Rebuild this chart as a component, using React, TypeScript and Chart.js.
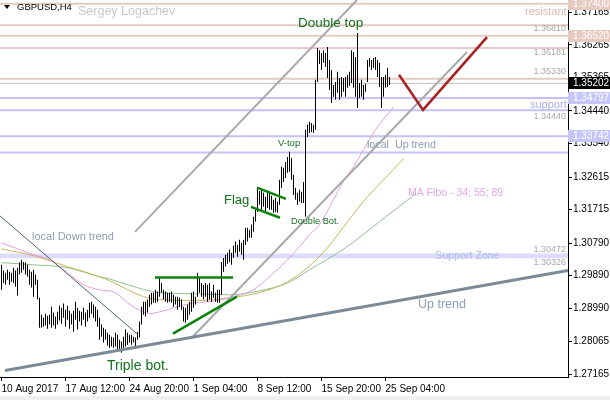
import React, { useEffect, useRef } from 'react';
import { Chart, registerables } from 'chart.js';

Chart.register(...registerables);

const FONT = '"Liberation Sans", Arial, sans-serif';

// GBPUSD H4 bars: highs and lows (one bar per 4 hours)
const barHigh = [
  1.3019, 1.3003, 1.2997, 1.3005, 1.3000, 1.2997, 1.3011, 1.3003, 1.3011, 1.3025,
  1.3033, 1.3027, 1.3025, 1.3019, 1.3005, 1.3000, 1.3005, 1.2992, 1.2978, 1.2928,
  1.2881, 1.2873, 1.2884, 1.2878, 1.2881, 1.2903, 1.2887, 1.2876, 1.2889, 1.2906,
  1.2900, 1.2912, 1.2895, 1.2906, 1.2892, 1.2884, 1.2892, 1.2917, 1.2900, 1.2892,
  1.2889, 1.2900, 1.2887, 1.2895, 1.2914, 1.2917, 1.2909, 1.2903, 1.2895, 1.2873,
  1.2854, 1.2845, 1.2840, 1.2831, 1.2826, 1.2820, 1.2818, 1.2831, 1.2826, 1.2812,
  1.2807, 1.2820, 1.2840, 1.2831, 1.2826, 1.2826, 1.2820, 1.2818, 1.2834, 1.2862,
  1.2903, 1.2917, 1.2917, 1.2923, 1.2936, 1.2942, 1.2942, 1.2950, 1.2945, 1.2983,
  1.2969, 1.2950, 1.2945, 1.2942, 1.2942, 1.2945, 1.2936, 1.2931, 1.2931, 1.2928,
  1.2923, 1.2903, 1.2900, 1.2909, 1.2917, 1.2942, 1.2945, 1.2931, 1.2997, 1.2983,
  1.2969, 1.2964, 1.2969, 1.2964, 1.2969, 1.2945, 1.2964, 1.2942, 1.2950, 1.2950,
  1.3027, 1.3038, 1.3047, 1.3052, 1.3061, 1.3052, 1.3072, 1.3083, 1.3074, 1.3088,
  1.3080, 1.3088, 1.3121, 1.3121, 1.3116, 1.3130, 1.3152, 1.3171, 1.3232, 1.3223,
  1.3226, 1.3218, 1.3207, 1.3221, 1.3221, 1.3210, 1.3199, 1.3204, 1.3193, 1.3254,
  1.3290, 1.3287, 1.3303, 1.3317, 1.3331, 1.3314, 1.3268, 1.3232, 1.3218, 1.3226,
  1.3221, 1.3248, 1.3392, 1.3406, 1.3414, 1.3411, 1.3406, 1.3530, 1.3618, 1.3612,
  1.3604, 1.3612, 1.3604, 1.3621, 1.3585, 1.3557, 1.3516, 1.3524, 1.3552, 1.3535,
  1.3538, 1.3535, 1.3538, 1.3544, 1.3552, 1.3612, 1.3607, 1.3593, 1.3659, 1.3521,
  1.3530, 1.3516, 1.3519, 1.3585, 1.3590, 1.3585, 1.3590, 1.3593, 1.3585, 1.3577,
  1.3538, 1.3538, 1.3544, 1.3563, 1.3538,
];
const barLow = [
  1.2950, 1.2969, 1.2964, 1.2978, 1.2964, 1.2972, 1.2969, 1.2958, 1.2934, 1.2992,
  1.2997, 1.3005, 1.2992, 1.2986, 1.2964, 1.2956, 1.2931, 1.2964, 1.2923, 1.2845,
  1.2845, 1.2848, 1.2851, 1.2842, 1.2854, 1.2845, 1.2851, 1.2842, 1.2854, 1.2865,
  1.2856, 1.2873, 1.2848, 1.2867, 1.2842, 1.2854, 1.2834, 1.2867, 1.2840, 1.2862,
  1.2851, 1.2867, 1.2848, 1.2862, 1.2873, 1.2884, 1.2873, 1.2862, 1.2848, 1.2812,
  1.2820, 1.2804, 1.2812, 1.2796, 1.2790, 1.2793, 1.2790, 1.2793, 1.2785, 1.2785,
  1.2776, 1.2785, 1.2793, 1.2798, 1.2804, 1.2798, 1.2804, 1.2793, 1.2812, 1.2818,
  1.2854, 1.2881, 1.2876, 1.2887, 1.2903, 1.2909, 1.2914, 1.2914, 1.2917, 1.2931,
  1.2942, 1.2923, 1.2917, 1.2914, 1.2917, 1.2914, 1.2903, 1.2909, 1.2895, 1.2903,
  1.2895, 1.2862, 1.2859, 1.2867, 1.2881, 1.2889, 1.2900, 1.2909, 1.2931, 1.2942,
  1.2931, 1.2923, 1.2931, 1.2917, 1.2923, 1.2917, 1.2928, 1.2917, 1.2914, 1.2914,
  1.2936, 1.3000, 1.3014, 1.3022, 1.3027, 1.3019, 1.3038, 1.3052, 1.3041, 1.3055,
  1.3047, 1.3033, 1.3074, 1.3083, 1.3094, 1.3094, 1.3110, 1.3138, 1.3165, 1.3185,
  1.3171, 1.3179, 1.3165, 1.3176, 1.3171, 1.3171, 1.3163, 1.3165, 1.3163, 1.3185,
  1.3232, 1.3248, 1.3259, 1.3273, 1.3276, 1.3254, 1.3212, 1.3199, 1.3185, 1.3193,
  1.3190, 1.3190, 1.3152, 1.3372, 1.3383, 1.3386, 1.3383, 1.3392, 1.3524, 1.3574,
  1.3557, 1.3577, 1.3566, 1.3535, 1.3502, 1.3466, 1.3483, 1.3475, 1.3494, 1.3475,
  1.3483, 1.3497, 1.3483, 1.3508, 1.3513, 1.3521, 1.3508, 1.3483, 1.3452, 1.3480,
  1.3483, 1.3475, 1.3497, 1.3524, 1.3566, 1.3557, 1.3563, 1.3557, 1.3538, 1.3510,
  1.3452, 1.3483, 1.3508, 1.3510, 1.3516,
];

const xTickIndex = [0, 32, 64, 96, 128, 160, 192];
const xTickLabels = ['10 Aug 2017', '17 Aug 12:00', '24 Aug 20:00', '1 Sep 04:00', '8 Sep 12:00', '15 Sep 20:00', '25 Sep 04:00'];
const yTickValues = [1.37165, 1.36265, 1.35365, 1.3444, 1.3354, 1.32615, 1.31715, 1.3079, 1.2989, 1.2899, 1.28065, 1.27165];

const resistanceLevels = [1.374, 1.3681, 1.3652, 1.36181, 1.3533];
const supportLevels = [1.34797, 1.3446, 1.33742, 1.3329];
const currentPrice = 1.35202;
const supportZone = [1.3037, 1.305];

// Moving averages (MA Fibo 34, 55, 89), sampled along the drawn curves
const ma34Index = [0, 16, 24, 33, 41, 49, 57, 63, 71, 74, 79, 88, 96, 104, 114, 126, 134, 143, 149, 154, 159, 166, 172, 176, 181, 187, 196];
const ma34Value = [1.3080, 1.3047, 1.3033, 1.2997, 1.2964, 1.2950, 1.2942, 1.2914, 1.2889, 1.2884, 1.2889, 1.2903, 1.2914, 1.2917, 1.2928, 1.2950, 1.2986, 1.3033, 1.3069, 1.3102, 1.3130, 1.3199, 1.3259, 1.3290, 1.3337, 1.3392, 1.3455];
const ma55Index = [0, 16, 33, 49, 54, 71, 79, 96, 114, 129, 143, 154, 163, 173, 183, 193, 201];
const ma55Value = [1.3063, 1.3044, 1.3014, 1.2986, 1.2975, 1.2931, 1.2923, 1.2920, 1.2928, 1.2942, 1.2972, 1.3016, 1.3066, 1.3138, 1.3207, 1.3265, 1.3312];
const ma89Index = [0, 16, 33, 49, 54, 63, 79, 96, 114, 129, 143, 154, 172, 189, 207];
const ma89Value = [1.3025, 1.3019, 1.3011, 1.2986, 1.2980, 1.2964, 1.2942, 1.2939, 1.2936, 1.2947, 1.2969, 1.3005, 1.3066, 1.3138, 1.3215];

// Trend lines (bar index, price)
const upTrendIndex = [1.75, 283.25];
const upTrendPrice = [1.2727, 1.3003];
const channelUpperIndex = [66.75, 177.75];
const channelUpperPrice = [1.311, 1.37505];
const channelLowerIndex = [95.25, 232.75];
const channelLowerPrice = [1.2818, 1.3607];
const localDownIndex = [-0.75, 68.25];
const localDownPrice = [1.3154, 1.2826];
const greenFlatIndex = [76.75, 115.75];
const greenFlatPrice = [1.2984, 1.2984];
const greenRiseIndex = [85.75, 117.75];
const greenRisePrice = [1.2829, 1.2931];
const flagUpperIndex = [127.75, 142.25];
const flagUpperPrice = [1.3232, 1.3201];
const flagLowerIndex = [124.75, 139.25];
const flagLowerPrice = [1.3179, 1.3149];
const forecastIndex = [198.75, 210.75, 242.75];
const forecastPrice = [1.3544, 1.3447, 1.3648];

const axisMarkValues = [1.374, 1.3652, 1.35202, 1.34797, 1.33742];
const axisMarkKinds = ['res', 'res', 'cur', 'sup', 'sup'];

const X_MIN = -0.75;
const X_MAX = 283.25;
const Y_MIN = 1.2709;
const Y_MAX = 1.37505;

const GREEN_TXT = '#12701a';
const SLATE_TXT = '#8d9db3';
const GRAY_NUM = '#a8a8a8';

const notes = [
  { text: 'Double top', i: 148.25, p: 1.3687, size: 13.5, color: GREEN_TXT, align: 'left' },
  { text: 'V-top', i: 138.25, p: 1.33555, size: 9.5, color: GREEN_TXT, align: 'left' },
  { text: 'Flag', i: 111.25, p: 1.3198, size: 13, color: GREEN_TXT, align: 'left' },
  { text: 'Double Bot.', i: 144.75, p: 1.314, size: 9.2, color: GREEN_TXT, align: 'left' },
  { text: 'Triple bot.', i: 52.75, p: 1.27394, size: 14, color: GREEN_TXT, align: 'left' },
  { text: 'local Down trend', i: 15.25, p: 1.30958, size: 11, color: SLATE_TXT, align: 'left' },
  { text: 'local  Up trend', i: 182.75, p: 1.33499, size: 10.7, color: SLATE_TXT, align: 'left' },
  { text: 'MA Fibo - 34; 55; 89', i: 203.25, p: 1.32173, size: 10.5, color: '#e6a6e6', align: 'left' },
  { text: 'Up trend', i: 208.25, p: 1.29079, size: 12.5, color: SLATE_TXT, align: 'left' },
  { text: 'Support Zone', i: 216.75, p: 1.30433, size: 10.7, color: '#b4b4f4', align: 'left' },
  { text: 'support', i: 264.25, p: 1.34618, size: 11, color: '#adadf2', align: 'left' },
  { text: 'resistant', i: 261.75, p: 1.37174, size: 11, color: '#dcbab0', align: 'left' },
  { text: '1.36810', i: 282.25, p: 1.36704, size: 9, color: GRAY_NUM, align: 'right' },
  { text: '1.36181', i: 282.25, p: 1.36055, size: 9, color: GRAY_NUM, align: 'right' },
  { text: '1.35330', i: 282.25, p: 1.35516, size: 9, color: GRAY_NUM, align: 'right' },
  { text: '1.34440', i: 282.25, p: 1.34273, size: 9, color: GRAY_NUM, align: 'right' },
  { text: '1.30472', i: 282.25, p: 1.30599, size: 9, color: GRAY_NUM, align: 'right' },
  { text: '1.30326', i: 282.25, p: 1.30239, size: 9, color: GRAY_NUM, align: 'right' },
];

const seg = (xs: number[], ys: number[], color: string, width: number, order: number, extra: any = {}) => ({
  type: 'line' as const,
  data: xs.map((x, k) => ({ x, y: ys[k] })),
  borderColor: color,
  backgroundColor: color,
  borderWidth: width,
  pointRadius: 0,
  pointHoverRadius: 0,
  tension: 0,
  fill: false,
  order,
  ...extra,
});

const notesPlugin = {
  id: 'notes',
  afterDatasetsDraw(chart: any) {
    const { ctx, chartArea, scales } = chart;
    ctx.save();
    ctx.beginPath();
    ctx.rect(chartArea.left, chartArea.top, chartArea.right - chartArea.left, chartArea.bottom - chartArea.top);
    ctx.clip();
    ctx.textBaseline = 'middle';
    for (const n of notes) {
      ctx.font = `${n.size}px ${FONT}`;
      ctx.fillStyle = n.color;
      ctx.textAlign = n.align;
      ctx.fillText(n.text, scales.x.getPixelForValue(n.i), scales.y.getPixelForValue(n.p));
    }
    ctx.restore();
  },
  afterDraw(chart: any) {
    const { ctx, scales } = chart;
    const ys = scales.y;
    ctx.save();
    ctx.font = `10px ${FONT}`;
    ctx.textBaseline = 'middle';
    ctx.textAlign = 'left';
    axisMarkValues.forEach((v, k) => {
      const kind = axisMarkKinds[k];
      const y = Math.round(ys.getPixelForValue(v));
      ctx.fillStyle = kind === 'res' ? '#e6c9c1' : kind === 'sup' ? '#c5c5fa' : '#000000';
      ctx.fillRect(ys.left, y - 6, chart.width - ys.left, 12);
      ctx.fillStyle = '#ffffff';
      ctx.fillText(v.toFixed(5), ys.left + 5, y + 0.5);
    });
    // header
    ctx.fillStyle = '#000';
    ctx.beginPath();
    ctx.moveTo(4, 5);
    ctx.lineTo(10, 5);
    ctx.lineTo(7, 9);
    ctx.closePath();
    ctx.fill();
    ctx.font = `9.5px ${FONT}`;
    ctx.fillText('GBPUSD,H4', 17, 7.5);
    ctx.fillStyle = '#c8c8c8';
    ctx.font = `12.5px ${FONT}`;
    ctx.fillText('Sergey Logachev', 78, 11.5);
    ctx.restore();
  },
};

export default function App() {
  const ref = useRef<HTMLCanvasElement>(null);
  useEffect(() => {
    document.body.style.margin = '0';
    document.body.style.background = '#f0f0f0';
    const canvas = ref.current as HTMLCanvasElement;
    const bars = barHigh.map((h, i) => ({ x: i, y: [barLow[i], h] }));
    const full = [X_MIN, X_MAX];
    const datasets: any[] = [
      {
        type: 'bar',
        data: bars,
        backgroundColor: '#000000',
        borderWidth: 0,
        barThickness: 1,
        inflateAmount: 0,
        grouped: false,
        order: 10,
      },
      seg(full, [supportZone[1], supportZone[1]], 'rgba(0,0,0,0)', 0, 30, {
        fill: { value: supportZone[0] },
        backgroundColor: '#dcdcfa',
      }),
      ...resistanceLevels.map((v) => seg(full, [v, v], '#e3cbc3', 2, 25)),
      ...supportLevels.map((v) => seg(full, [v, v], '#c3c3f7', 2, 25)),
      seg(full, [currentPrice, currentPrice], '#c0c0c0', 1, 24),
      seg(ma34Index, ma34Value, '#e39de3', 1, 20, { cubicInterpolationMode: 'monotone' }),
      seg(ma55Index, ma55Value, '#c8b45a', 1, 20, { cubicInterpolationMode: 'monotone' }),
      seg(ma89Index, ma89Value, '#8fbf8f', 1, 20, { cubicInterpolationMode: 'monotone' }),
      seg(localDownIndex, localDownPrice, '#52606e', 1, 5),
      seg(upTrendIndex, upTrendPrice, '#7b8a99', 3, 5),
      seg(channelUpperIndex, channelUpperPrice, '#a9a9a9', 2, 5),
      seg(channelLowerIndex, channelLowerPrice, '#a9a9a9', 2, 5),
      seg(greenFlatIndex, greenFlatPrice, '#0a840a', 2.5, 4),
      seg(greenRiseIndex, greenRisePrice, '#0a840a', 2.5, 4),
      seg(flagUpperIndex, flagUpperPrice, '#0a840a', 2.5, 4),
      seg(flagLowerIndex, flagLowerPrice, '#0a840a', 2.5, 4),
      seg(forecastIndex, forecastPrice, '#a82020', 2.5, 4),
    ];
    const chart = new Chart(canvas, {
      type: 'bar',
      data: { datasets },
      plugins: [notesPlugin],
      options: {
        animation: false,
        responsive: false,
        events: [],
        layout: { padding: 0 },
        plugins: { legend: { display: false }, tooltip: { enabled: false }, title: { display: false } },
        scales: {
          x: {
            type: 'linear',
            min: X_MIN,
            max: X_MAX,
            offset: false,
            grid: { display: true, drawOnChartArea: false, drawTicks: true, tickLength: 4, color: '#000', offset: false },
            border: { display: true, color: '#000', width: 1 },
            ticks: {
              autoSkip: false,
              maxRotation: 0,
              minRotation: 0,
              align: 'start',
              padding: 2,
              color: '#000',
              font: { family: FONT, size: 10 },
              callback: (v: any) => {
                const k = xTickIndex.indexOf(Number(v));
                return k >= 0 ? xTickLabels[k] : '';
              },
            },
            afterBuildTicks: (s: any) => {
              s.ticks = xTickIndex.map((v) => ({ value: v }));
            },
            afterFit: (s: any) => {
              s.height = 19;
              s.paddingLeft = 0;
              s.paddingRight = 0;
            },
          },
          y: {
            type: 'linear',
            position: 'right',
            min: Y_MIN,
            max: Y_MAX,
            grid: { display: true, drawOnChartArea: false, drawTicks: true, tickLength: 4, color: '#000' },
            border: { display: true, color: '#000', width: 1 },
            ticks: {
              autoSkip: false,
              padding: 1,
              color: '#000',
              font: { family: FONT, size: 10 },
              callback: (v: any) => Number(v).toFixed(5),
            },
            afterBuildTicks: (s: any) => {
              s.ticks = yTickValues.map((v) => ({ value: v }));
            },
            afterFit: (s: any) => {
              s.width = 42;
              s.paddingTop = 0;
              s.paddingBottom = 0;
            },
          },
        },
      } as any,
    });
    return () => chart.destroy();
  }, []);
  return (
    <div style={{ position: 'fixed', left: 0, top: 0, width: 610, height: 396, background: '#ffffff' }}>
      <canvas ref={ref} width={610} height={396} style={{ display: 'block', width: 610, height: 396 }} />
    </div>
  );
}
